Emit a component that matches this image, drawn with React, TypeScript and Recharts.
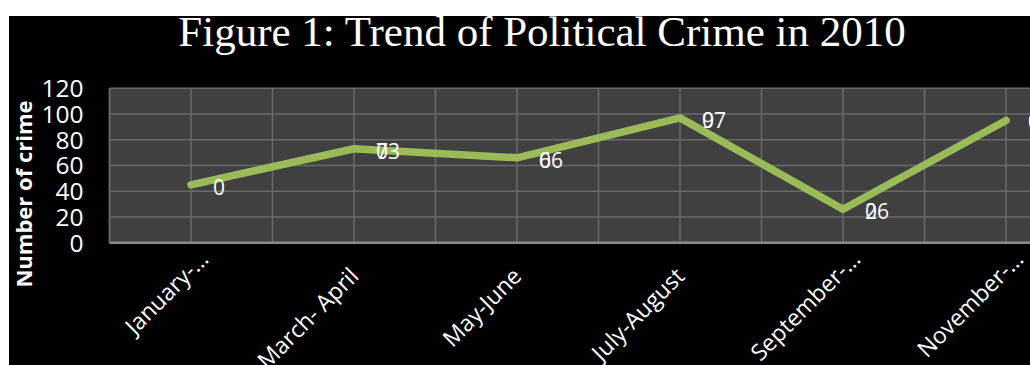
import React from "react";
import { LineChart, Line, XAxis, YAxis, CartesianGrid, LabelList } from "recharts";

const categories = ["January-…", "March- April", "May-June", "July-August", "September-…", "November-…"];
const crimes = [45, 73, 66, 97, 26, 95];
const valueLabels = ["", "73", "66", "97", "26", "95"];
const overlayLabels = ["0", "0", "0", "0", "0", "0"];
const yTicks = [0, 20, 40, 60, 80, 100, 120];
const xTicks = [-0.5, 0, 0.5, 1, 1.5, 2, 2.5, 3, 3.5, 4, 4.5, 5, 5.5];

const data = categories.map((c, i) => ({ idx: i, name: c, crimes: crimes[i] }));

const SANS = "'Open Sans', 'DejaVu Sans', sans-serif";

const XTick = (props: any) => {
  const { x, y, payload } = props;
  const v = payload.value;
  if (!Number.isInteger(v)) return null;
  const label = categories[v];
  const trunc = label.endsWith("…");
  const ax = x + (trunc ? 19 : 6);
  const ay = y + (trunc ? 10 : 27);
  return (
    <text x={ax} y={ay} textAnchor="end" fill="#ffffff" fontFamily={SANS} fontSize={23}
      transform={`rotate(-45, ${ax}, ${ay})`}>{label}</text>
  );
};

const YTick = (props: any) => {
  const { x, y, payload } = props;
  return (
    <text x={x - 26} y={y} dy="0.36em" textAnchor="end" fill="#ffffff" fontFamily={SANS} fontSize={24.5}>{payload.value}</text>
  );
};

const DataLabel = (props: any) => {
  const { x, y, index } = props;
  const lx = x + 22;
  const ly = y + 10;
  return (
    <g>
      <text x={lx} y={ly} fill="#ffffff" fontFamily={SANS} fontSize={21}>{overlayLabels[index]}</text>
      <text x={lx} y={ly} fill="#ffffff" fontFamily={SANS} fontSize={21}>{valueLabels[index]}</text>
    </g>
  );
};

export default function App() {
  return (
    <div style={{ position: "absolute", left: 9, top: 16, width: 1021, height: 349, background: "#000", overflow: "hidden" }}>
      <svg width={1021} height={349} style={{ position: "absolute", left: 0, top: 0 }}>
        <text x={533} y={30} textAnchor="middle" fill="#ffffff" fontFamily="'Liberation Serif', 'Times New Roman', serif" fontSize={43}>
          Figure 1: Trend of Political Crime in 2010
        </text>
        <text x={14} y={178} textAnchor="middle" dominantBaseline="central" fill="#ffffff" fontFamily={SANS}
          fontWeight="bold" fontSize={22} transform="rotate(-90, 14, 178)">Number of crime</text>
      </svg>
      <div style={{ position: "absolute", left: 0, top: 0 }}>
        <LineChart width={1100} height={349} data={data} margin={{ top: 72.3, right: 21.5, left: 0, bottom: 0 }}>
          <CartesianGrid fill="#404040" stroke="#6a6a6a" strokeWidth={1.5} horizontal vertical />
          <XAxis type="number" dataKey="idx" domain={[-0.5, 5.5]} ticks={xTicks} interval={0} allowDataOverflow
            height={122.3} tickLine={false} axisLine={{ stroke: "#8a8a8a", strokeWidth: 2.5 }} tick={<XTick />} />
          <YAxis type="number" domain={[0, 120]} ticks={yTicks} interval={0} width={100.5} tickLine={false} tickSize={0} tickMargin={0}
            axisLine={{ stroke: "#6a6a6a", strokeWidth: 1.5 }} tick={<YTick />} />
          <Line type="linear" dataKey="crimes" stroke="#9BBB59" strokeWidth={7.5} strokeLinecap="round" strokeLinejoin="round"
            dot={false} activeDot={false} isAnimationActive={false}>
            <LabelList dataKey="crimes" content={<DataLabel />} />
          </Line>
        </LineChart>
      </div>
    </div>
  );
}
